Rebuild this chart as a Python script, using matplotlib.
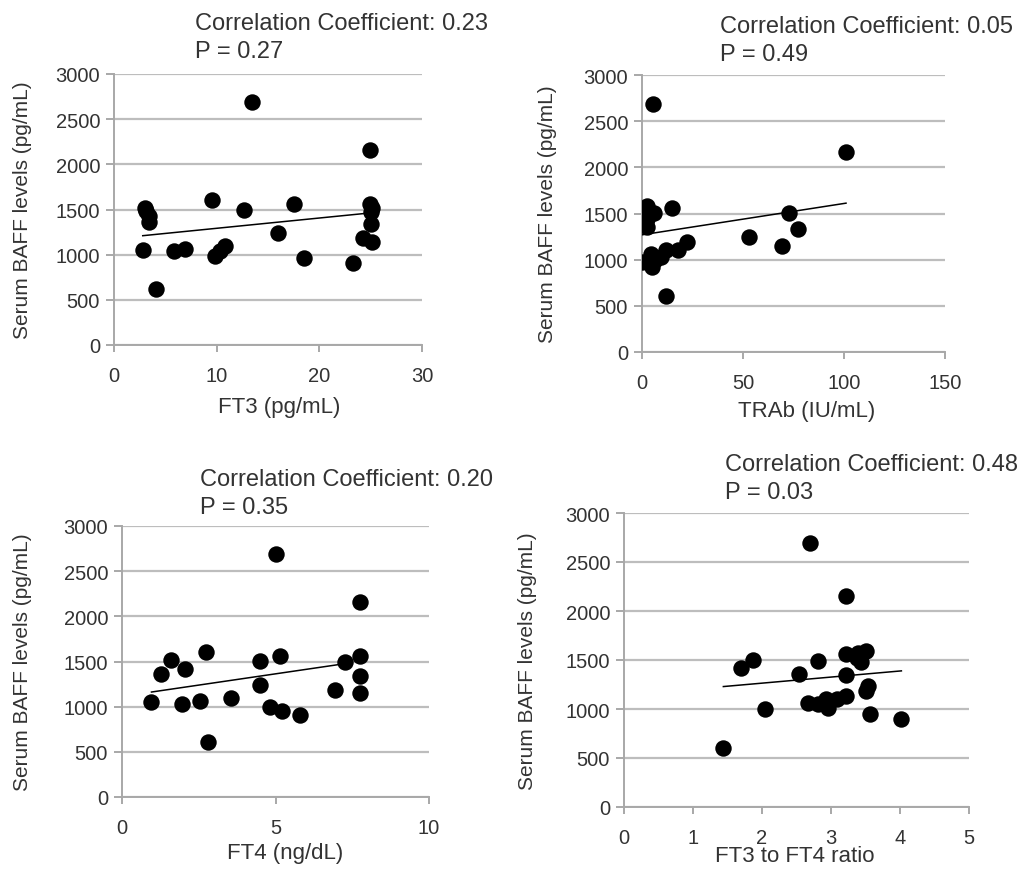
"""Serum BAFF vs thyroid markers: four scatter panels with a linear trend line.

Values are read off the published figure (one dot per patient).

    python plot.py  ->  out.png
"""

import matplotlib
matplotlib.use("Agg")
import matplotlib.pyplot as plt  # noqa: E402

W, H = 1022, 870
plt.rcParams["font.family"] = ["Liberation Sans", "DejaVu Sans"]

YLABEL = "Serum BAFF levels (pg/mL)"
Y_TICKS = [0, 500, 1000, 1500, 2000, 2500, 3000]

# --- panel 1: FT3
ft3 = [13.4, 24.9, 3.0, 3.1, 3.4, 3.4, 2.8, 4.1, 5.8, 6.9, 9.5, 9.8, 10.3,
       10.8, 12.7, 16.0, 17.5, 18.5, 23.3, 24.9, 25.1, 25.0, 25.0, 24.3, 25.1]
baff_ft3 = [2690, 2160, 1520, 1480, 1430, 1360, 1055, 620, 1040, 1060, 1600,
            990, 1040, 1100, 1500, 1240, 1560, 960, 910, 1560, 1520, 1470,
            1340, 1190, 1145]
trend_ft3_x = [2.8, 24.6]
trend_ft3_y = [1210, 1458]

# --- panel 2: TRAb
trab = [5.5, 100.8, 2.6, 0.9, 5.9, 2.3, 1.5, 2.6, 15.0, 73.0, 77.1, 53.0,
        69.2, 0.0, 3.5, 4.3, 5.1, 6.5, 9.3, 12.1, 18.0, 22.5, 11.8]
baff_trab = [2690, 2165, 1585, 1515, 1505, 1440, 1400, 1350, 1560, 1505, 1335,
             1245, 1145, 975, 1000, 1065, 920, 1000, 1030, 1100, 1110, 1195, 610]
trend_trab_x = [0, 101]
trend_trab_y = [1269, 1612]

# --- panel 3: FT4
ft4 = [5.0, 7.75, 0.96, 1.28, 1.58, 2.04, 1.97, 2.53, 2.73, 2.8, 3.54, 4.49,
       4.49, 4.82, 5.16, 5.2, 5.8, 6.94, 7.26, 7.75, 7.75, 7.75]
baff_ft4 = [2690, 2160, 1055, 1360, 1515, 1415, 1035, 1065, 1600, 610, 1100,
            1505, 1240, 1000, 1560, 950, 905, 1190, 1490, 1560, 1340, 1150]
trend_ft4_x = [0.96, 7.26]
trend_ft4_y = [1162, 1476]

# --- panel 4: FT3/FT4 ratio
ratio = [2.70, 3.22, 1.44, 1.69, 1.87, 2.05, 2.53, 2.81, 2.67, 2.81, 2.93,
         2.96, 3.08, 3.22, 3.22, 3.22, 3.39, 3.51, 3.44, 3.54, 3.51, 3.57,
         4.02, 3.37]
baff_ratio = [2690, 2150, 605, 1415, 1500, 1000, 1355, 1490, 1065, 1050, 1100,
              1015, 1100, 1135, 1345, 1560, 1570, 1595, 1475, 1235, 1185, 945,
              900, 1520]
trend_ratio_x = [1.44, 4.02]
trend_ratio_y = [1229, 1389]

PANELS = [
    dict(x=ft3, y=baff_ft3, tx=trend_ft3_x, ty=trend_ft3_y,
         xlabel="FT3 (pg/mL)", xticks=[0, 10, 20, 30], r="0.23", p="0.27",
         box=(114, 75, 422, 346), note=(195, 24), xlab=(279, 408), ylab=23),
    dict(x=trab, y=baff_trab, tx=trend_trab_x, ty=trend_trab_y,
         xlabel="TRAb (IU/mL)", xticks=[0, 50, 100, 150], r="0.05", p="0.49",
         box=(642, 76, 945, 353), note=(720, 27), xlab=(807, 412), ylab=547),
    dict(x=ft4, y=baff_ft4, tx=trend_ft4_x, ty=trend_ft4_y,
         xlabel="FT4 (ng/dL)", xticks=[0, 5, 10], r="0.20", p="0.35",
         box=(122, 527, 429, 798), note=(200, 480), xlab=(285, 854), ylab=23),
    dict(x=ratio, y=baff_ratio, tx=trend_ratio_x, ty=trend_ratio_y,
         xlabel="FT3 to FT4 ratio", xticks=[0, 1, 2, 3, 4, 5], r="0.48",
         p="0.03", box=(624, 514, 969, 808), note=(725, 465), xlab=(795, 857),
         ylab=527),
]

TEXT = "#333333"
GRID = "#bdbdbd"
AXIS = "#a8a8a8"


def fx(px):
    return px / W


def fy(py):
    return 1 - py / H


def draw_panel(fig, pn):
    x0, y0, x1, y1 = pn["box"]
    ax = fig.add_axes([fx(x0), fy(y1), (x1 - x0) / W, (y1 - y0) / H])
    ax.scatter(pn["x"], pn["y"], s=140, color="black", zorder=3, linewidths=0)
    ax.plot(pn["tx"], pn["ty"], color="black", lw=1.1, zorder=4)

    ax.set_xlim(pn["xticks"][0], pn["xticks"][-1])
    ax.set_ylim(0, 3000)
    ax.set_xticks(pn["xticks"])
    ax.set_yticks(Y_TICKS)
    ax.yaxis.grid(True, color=GRID, lw=1.6)
    ax.set_axisbelow(True)
    for side in ("top", "right"):
        ax.spines[side].set_visible(False)
    for side in ("left", "bottom"):
        ax.spines[side].set_color(AXIS)
        ax.spines[side].set_linewidth(1.4)
    ax.tick_params(axis="y", length=6, width=1.4, color=AXIS, pad=4,
                   labelsize=14.5, labelcolor=TEXT)
    ax.tick_params(axis="x", length=5, width=1.4, color=AXIS, pad=10,
                   labelsize=14.5, labelcolor=TEXT)

    # correlation note above the panel
    nx, ny = pn["note"]
    fig.text(fx(nx), fy(ny), f"Correlation Coefficient: {pn['r']}",
             fontsize=17, color=TEXT, va="center", ha="left")
    fig.text(fx(nx), fy(ny + 28), f"P = {pn['p']}",
             fontsize=17, color=TEXT, va="center", ha="left")
    lx, ly = pn["xlab"]
    fig.text(fx(lx), fy(ly), pn["xlabel"], fontsize=16, color=TEXT,
             ha="center", va="center")
    fig.text(fx(pn["ylab"]), fy((y0 + y1) / 2), YLABEL, fontsize=15,
             color=TEXT, rotation=90, ha="center", va="center")


def main():
    fig = plt.figure(figsize=(W / 100, H / 100), dpi=100)
    for pn in PANELS:
        draw_panel(fig, pn)
    fig.savefig("out.png", dpi=100, facecolor="white")
    plt.close(fig)


if __name__ == "__main__":
    main()
